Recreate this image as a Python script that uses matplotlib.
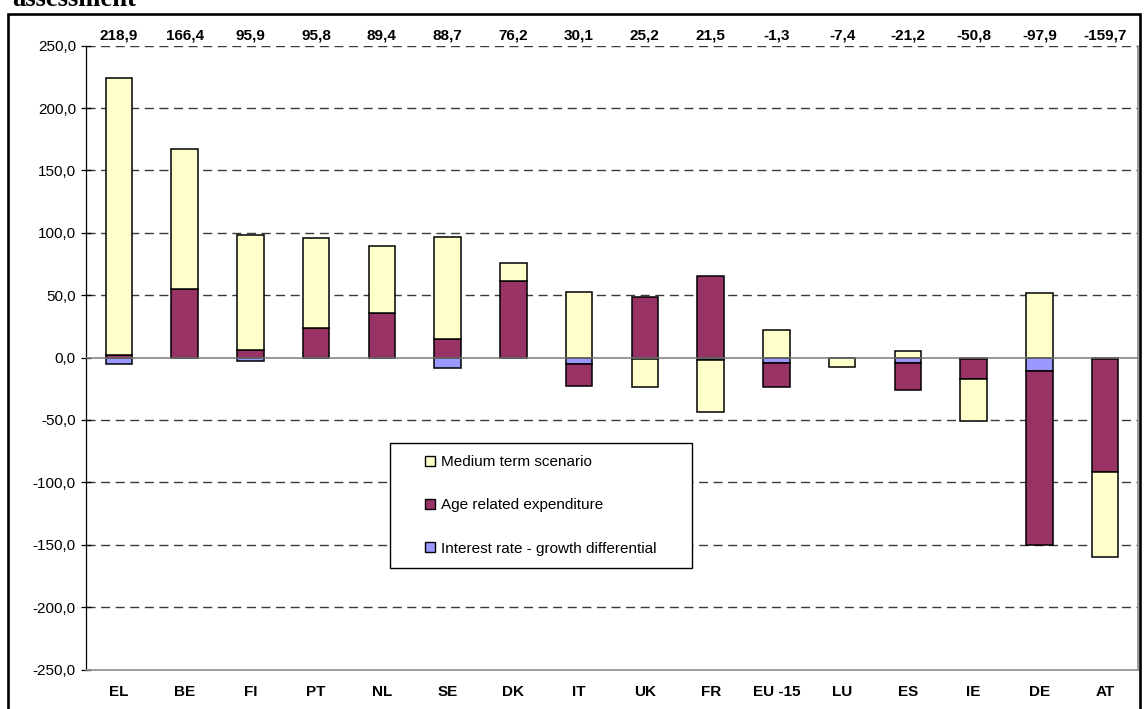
import numpy as np
import matplotlib
matplotlib.use("Agg")
import matplotlib.pyplot as plt
from matplotlib.patches import Rectangle
from matplotlib.ticker import FuncFormatter

# Country codes along the category axis
countries = ["EL", "BE", "FI", "PT", "NL", "SE", "DK", "IT", "UK", "FR",
             "EU -15", "LU", "ES", "IE", "DE", "AT"]

# Contributions of each component
interest_growth = [-5.3, -0.6, -2.4, 0.0, 0.0, -8.3, 0.0, -5.1, -1.3, -2.0,
                   -4.2, 0.0, -4.2, -0.8, -10.6, -1.0]
age_related = [2.2, 55.3, 6.2, 23.5, 35.6, 15.0, 61.6, -17.6, 48.9, 65.5,
               -19.5, 0.0, -21.9, -16.0, -139.4, -91.0]
medium_term = [222.0, 111.7, 92.1, 72.3, 53.8, 82.0, 14.6, 52.8, -22.4, -42.0,
               22.4, -7.4, 4.9, -34.0, 52.1, -67.7]

# Totals printed above the plot
totals = [218.9, 166.4, 95.9, 95.8, 89.4, 88.7, 76.2, 30.1, 25.2, 21.5,
          -1.3, -7.4, -21.2, -50.8, -97.9, -159.7]

series = [
    ("Interest rate - growth differential", interest_growth, "#9999FF"),
    ("Age related expenditure", age_related, "#993366"),
    ("Medium term scenario", medium_term, "#FFFFCC"),
]

plt.rcParams["font.family"] = ["Liberation Sans", "DejaVu Sans"]

W, H = 1144, 709
fig = plt.figure(figsize=(W / 100, H / 100), dpi=100)
fig.patch.set_facecolor("white")

left, right, top, bottom = 86, 1138, 45.7, 669.5
ax = fig.add_axes([left / W, 1 - bottom / H, (right - left) / W, (bottom - top) / H])

x = np.arange(len(countries))
pos_base = np.zeros(len(countries))
neg_base = np.zeros(len(countries))
handles = {}
for name, vals, color in series:
    v = np.asarray(vals, dtype=float)
    base = np.where(v >= 0, pos_base, neg_base)
    bars = ax.bar(x, v, width=0.40, bottom=base, color=color,
                  edgecolor="black", linewidth=1.1, label=name, zorder=3)
    handles[name] = bars
    pos_base = pos_base + np.where(v > 0, v, 0)
    neg_base = neg_base + np.where(v < 0, v, 0)

ax.set_xlim(-0.5, len(countries) - 0.5)
ax.set_ylim(-250, 250)
ax.set_yticks(np.arange(-250, 251, 50))
ax.yaxis.set_major_formatter(FuncFormatter(lambda v, p: f"{v:.1f}".replace(".", ",")))

# dashed horizontal gridlines
for yv in np.arange(-200, 251, 50):
    if yv == 0:
        continue
    ax.axhline(yv, color="#3a3a3a", linewidth=1.0, dashes=(6.5, 4.0), zorder=1)
ax.axhline(0, color="#7a7a7a", linewidth=1.1, zorder=4)

ax.spines["top"].set_visible(False)
ax.spines["left"].set_color("black")
ax.spines["left"].set_linewidth(0.9)
ax.spines["right"].set_color("#8c8c8c")
ax.spines["bottom"].set_color("#8c8c8c")
ax.spines["right"].set_linewidth(1.2)
ax.spines["bottom"].set_linewidth(1.2)

ax.tick_params(axis="y", direction="inout", length=6.5, width=0.9,
               labelsize=11, pad=4, colors="black")
ax.set_xticks(x)
ax.set_xticklabels(countries, fontsize=11, fontweight="bold")
ax.tick_params(axis="x", length=0, pad=11)

# totals above each column
for xi, t in zip(x, totals):
    ax.annotate(f"{t:.1f}".replace(".", ","), xy=(xi, 250), xytext=(0, 7.5),
                textcoords="offset points", ha="center", va="center",
                fontsize=11, fontweight="bold", annotation_clip=False)

# legend with its own box
box_l, box_r, box_t, box_b = 390, 692, 443, 568
ax_w, ax_h = right - left, bottom - top
fx0 = (box_l - left) / ax_w
fx1 = (box_r - left) / ax_w
fy0 = (bottom - box_b) / ax_h
fy1 = (bottom - box_t) / ax_h
ax.add_patch(Rectangle((fx0, fy0), fx1 - fx0, fy1 - fy0, transform=ax.transAxes,
                       facecolor="white", edgecolor="black", linewidth=1.0, zorder=5))
order = ["Medium term scenario", "Age related expenditure",
         "Interest rate - growth differential"]
leg = ax.legend([handles[n] for n in order], order, loc="center",
                bbox_to_anchor=((fx0 + fx1) / 2, (fy0 + fy1) / 2),
                frameon=False, fontsize=11, handlelength=0.65, handleheight=0.65,
                handletextpad=0.4, labelspacing=1.9, borderpad=0.0)
leg.set_zorder(6)
for p in leg.get_patches():
    p.set_linewidth(1.0)

# outer frame and title fragment
fig.add_artist(Rectangle((7.5 / W, -0.02), (1140 - 7.5) / W, 1 - 14 / H + 0.02,
                         transform=fig.transFigure, facecolor="none",
                         edgecolor="black", linewidth=1.9, clip_on=False))
fig.text(12 / W, 1 - 5.7 / H, "assessment", family=["Liberation Serif", "DejaVu Serif"],
         fontweight="bold", fontsize=19.2, ha="left", va="baseline")

fig.savefig("out.png", dpi=100)
